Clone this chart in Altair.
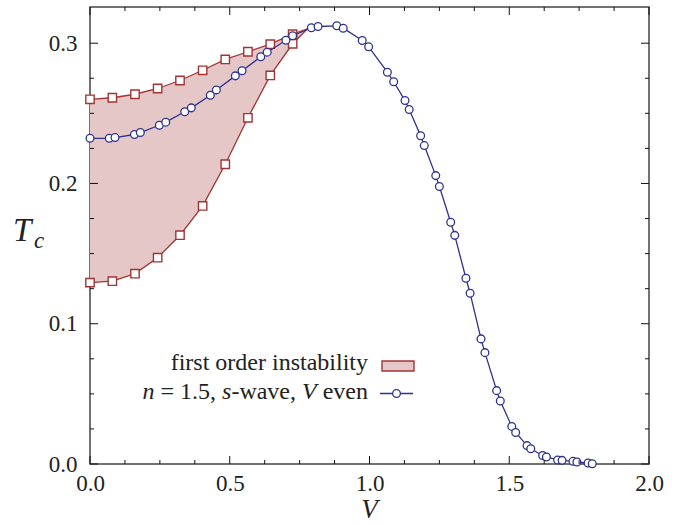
import altair as alt
import pandas as pd

# ---------------- data ----------------
blue_V = [0.0, 0.069, 0.0895, 0.159, 0.180, 0.248, 0.271, 0.339, 0.3625, 0.4305,
          0.452, 0.520, 0.544, 0.611, 0.634, 0.701, 0.725, 0.792, 0.816, 0.883,
          0.906, 0.974, 0.997, 1.064, 1.0865, 1.127, 1.142, 1.183, 1.196, 1.237,
          1.250, 1.2905, 1.305, 1.345, 1.360, 1.399, 1.413, 1.455, 1.468, 1.509,
          1.523, 1.5635, 1.577, 1.6195, 1.633, 1.673, 1.689, 1.728, 1.742, 1.782, 1.797]
blue_T = [0.2322, 0.2322, 0.2327, 0.2349, 0.2363, 0.2415, 0.2437, 0.2511, 0.2539, 0.2629,
          0.2667, 0.2767, 0.2803, 0.2903, 0.2936, 0.3021, 0.3053, 0.3110, 0.3119, 0.3124,
          0.3107, 0.3019, 0.2974, 0.2793, 0.2725, 0.2591, 0.2527, 0.2340, 0.2270, 0.2056,
          0.1978, 0.1723, 0.1630, 0.1324, 0.1217, 0.0892, 0.0794, 0.0523, 0.0449, 0.0268,
          0.0225, 0.0131, 0.0109, 0.0061, 0.0050, 0.0029, 0.0026, 0.0019, 0.0014, 0.0007, 0.0002]

sq_V = [0.0, 0.080, 0.161, 0.242, 0.322, 0.403, 0.484, 0.565, 0.645, 0.725]
sq_upper = [0.2600, 0.2611, 0.2636, 0.2677, 0.2734, 0.2807, 0.2884, 0.2939, 0.2993, 0.3064]
sq_lower = [0.1293, 0.1303, 0.1357, 0.1471, 0.1631, 0.1840, 0.2137, 0.2468, 0.2770, 0.2996]
tip_V = 0.778
tip_T = 0.3103

x_major = [0.0, 0.5, 1.0, 1.5, 2.0]
x_minor = [0.125, 0.25, 0.375, 0.625, 0.75, 0.875, 1.125, 1.25, 1.375, 1.625, 1.75, 1.875]
y_major = [0.0, 0.1, 0.2, 0.3]
y_minor = [0.025, 0.05, 0.075, 0.125, 0.15, 0.175, 0.225, 0.25, 0.275]

# ---------------- style ----------------
W, H = 559, 457
FONT = "Liberation Serif, DejaVu Serif, serif"
RED = "#a33434"
FILL = "#e6c7c7"
BLUE = "#2d338c"
FRAME = "#444444"

blue_df = pd.DataFrame({"V": blue_V, "T": blue_T})
sq_df = pd.DataFrame({"V": sq_V, "upper": sq_upper, "lower": sq_lower})
inst_df = pd.DataFrame({"V": sq_V + [tip_V], "upper": sq_upper + [tip_T], "lower": sq_lower + [tip_T]})
dummy = pd.DataFrame({"a": [0]})

xs = alt.Scale(domain=[0, 2], nice=False)
ys = alt.Scale(domain=[0, 0.3258], nice=False)

xaxis = alt.Axis(values=x_major, format=".1f", title=None, grid=False, domain=False,
                 ticks=False, tickSize=0, labelFont=FONT, labelFontSize=23,
                 labelColor="#222222", labelPadding=8, labelFlush=False)
yaxis = alt.Axis(values=y_major, format=".1f", title=None, grid=False, domain=False,
                 ticks=False, tickSize=0, labelFont=FONT, labelFontSize=23,
                 labelColor="#222222", labelPadding=13)

area = alt.Chart(inst_df).mark_area(color=FILL, opacity=1).encode(
    x=alt.X("V:Q", scale=xs, axis=xaxis),
    y=alt.Y("upper:Q", scale=ys, axis=yaxis),
    y2="lower:Q",
)
up_line = alt.Chart(inst_df).mark_line(color=RED, strokeWidth=1.3).encode(
    x=alt.X("V:Q", scale=xs), y=alt.Y("upper:Q", scale=ys))
lo_line = alt.Chart(inst_df).mark_line(color=RED, strokeWidth=1.3).encode(
    x=alt.X("V:Q", scale=xs), y=alt.Y("lower:Q", scale=ys))
up_sq = alt.Chart(sq_df).mark_point(shape="square", filled=True, fill="white", stroke=RED,
                                    strokeWidth=1.4, size=70, opacity=1).encode(
    x=alt.X("V:Q", scale=xs), y=alt.Y("upper:Q", scale=ys))
lo_sq = alt.Chart(sq_df).mark_point(shape="square", filled=True, fill="white", stroke=RED,
                                    strokeWidth=1.4, size=70, opacity=1).encode(
    x=alt.X("V:Q", scale=xs), y=alt.Y("lower:Q", scale=ys))
b_line = alt.Chart(blue_df).mark_line(color=BLUE, strokeWidth=1.3).encode(
    x=alt.X("V:Q", scale=xs), y=alt.Y("T:Q", scale=ys))
b_pts = alt.Chart(blue_df).mark_point(shape="circle", filled=True, fill="white", stroke=BLUE,
                                      strokeWidth=1.3, size=60, opacity=1).encode(
    x=alt.X("V:Q", scale=xs), y=alt.Y("T:Q", scale=ys))


def xticks(vals, length):
    d = pd.DataFrame({"v": vals})
    bot = alt.Chart(d).mark_rule(color="#111111", strokeWidth=1).encode(
        x=alt.X("v:Q", scale=xs), y=alt.value(H), y2=alt.value(H - length))
    top = alt.Chart(d).mark_rule(color="#111111", strokeWidth=1).encode(
        x=alt.X("v:Q", scale=xs), y=alt.value(0), y2=alt.value(length))
    return [bot, top]


def yticks(vals, length):
    d = pd.DataFrame({"v": vals})
    left = alt.Chart(d).mark_rule(color="#111111", strokeWidth=1).encode(
        y=alt.Y("v:Q", scale=ys), x=alt.value(0), x2=alt.value(length))
    right = alt.Chart(d).mark_rule(color="#111111", strokeWidth=1).encode(
        y=alt.Y("v:Q", scale=ys), x=alt.value(W), x2=alt.value(W - length))
    return [left, right]


def label(txt, x, y, size, style="normal", align="left"):
    return alt.Chart(dummy).mark_text(text=txt, font=FONT, fontSize=size, fontStyle=style,
                                      align=align, baseline="alphabetic", color="#222222").encode(
        x=alt.value(x), y=alt.value(y))


ticks = (xticks(x_major, 8) + xticks(x_minor, 4) + yticks(y_major, 8) + yticks(y_minor, 4))

# axis titles
titles = [
    label("V", W / 2, 511, 27, "italic", "center"),
    label("T", -77, 234, 33, "italic"),
    label("c", -56, 241, 23, "italic"),
]

# legend
LS = 24
R = 278
leg1_text = label("first order instability", R, 363, LS, "normal", "right")
leg_box = alt.Chart(dummy).mark_rect(fill=FILL, stroke=RED, strokeWidth=1.4).encode(
    x=alt.value(292), x2=alt.value(324), y=alt.value(354), y2=alt.value(364))
leg_line = alt.Chart(dummy).mark_rule(color=BLUE, strokeWidth=1.4).encode(
    x=alt.value(290), x2=alt.value(323), y=alt.value(386.5))
leg_pt = alt.Chart(dummy).mark_point(shape="circle", filled=True, fill="white", stroke=BLUE,
                                     strokeWidth=1.3, size=60, opacity=1).encode(
    x=alt.value(306.5), y=alt.value(386.5))

# second legend line: segments (text, style, advance width in 1/1000 em incl. trailing space)
segs = [("n", "italic", 500 + 250), ("= 1.5,", "normal", 2314 + 250), ("s", "italic", 389),
        ("-wave,", "normal", 2693 + 250), ("V", "italic", 611 + 250), ("even", "normal", 1888)]
total = sum(s[2] for s in segs) * LS / 1000.0
cur = R - total
leg2 = []
for t, st, w in segs:
    leg2.append(label(t, cur, 392.3, LS, st, "left"))
    cur += w * LS / 1000.0

layers = [area, up_line, lo_line, up_sq, lo_sq, b_line, b_pts] + ticks + titles + \
         [leg1_text, leg_box, leg_line, leg_pt] + leg2

chart = alt.layer(*layers).properties(
    width=W, height=H,
    autosize=alt.AutoSizeParams(type="none"),
    padding={"left": 90, "top": 7, "right": 35, "bottom": 61},
    background="white",
).configure_view(stroke=FRAME, strokeWidth=1.5)

chart.save("out.html", embed_options={"renderer": "svg", "actions": False})
